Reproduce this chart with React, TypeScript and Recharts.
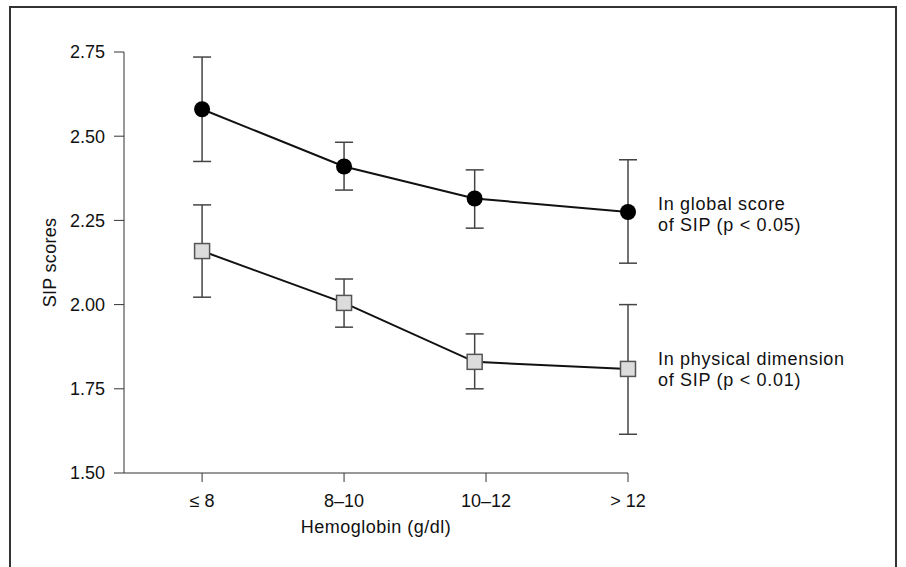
import React from "react";
import {
  ComposedChart,
  Line,
  XAxis,
  YAxis,
  ErrorBar,
} from "recharts";

const categories = ["≤ 8", "8–10", "10–12", "> 12"];
// where each group is drawn along the axis (10–12 sits slightly left of its tick)
const xPositions = [0, 1, 1.92, 3];
const categoryTicks = [0, 1, 2, 3];
const yTicks = [1.5, 1.75, 2.0, 2.25, 2.5, 2.75];

const globalMean = [2.58, 2.41, 2.315, 2.275];
const globalLow = [2.425, 2.34, 2.227, 2.123];
const globalHigh = [2.735, 2.482, 2.4, 2.43];

const physicalMean = [2.159, 2.005, 1.83, 1.809];
const physicalLow = [2.022, 1.933, 1.75, 1.615];
const physicalHigh = [2.296, 2.076, 1.913, 2.0];

const FONT = "'Liberation Sans', Arial, Helvetica, sans-serif";
const INK = "#111";

const data = xPositions.map((x, i) => ({
  x,
  global: globalMean[i],
  globalErr: [globalMean[i] - globalLow[i], globalHigh[i] - globalMean[i]],
  physical: physicalMean[i],
  physicalErr: [physicalMean[i] - physicalLow[i], physicalHigh[i] - physicalMean[i]],
}));

function CircleDot(props: any) {
  const { cx, cy, index } = props;
  if (cx == null || cy == null) return null;
  return <circle key={`c-${index}`} cx={cx} cy={cy} r={8} fill="#000" />;
}

function SquareDot(props: any) {
  const { cx, cy, index } = props;
  if (cx == null || cy == null) return null;
  return (
    <rect
      key={`s-${index}`}
      x={cx - 7.5}
      y={cy - 7.5}
      width={15}
      height={15}
      fill="#dcdcdc"
      stroke="#555"
      strokeWidth={1.5}
    />
  );
}

const legendStyle: React.CSSProperties = {
  position: "absolute",
  fontFamily: FONT,
  fontSize: 18,
  lineHeight: "21px",
  letterSpacing: 0.7,
  color: INK,
  whiteSpace: "nowrap",
};

const tickStyle = { fontSize: 18, fill: INK, fontFamily: FONT };

export default function App() {
  return (
    <div style={{ position: "absolute", left: 0, top: 0, width: 906, height: 567, background: "#fff", overflow: "hidden" }}>
      {/* outer frame */}
      <div
        style={{
          position: "absolute",
          left: 9,
          top: 6,
          width: 884,
          height: 580,
          border: "2px solid #333",
        }}
      />
      <div style={{ position: "absolute", left: 0, top: 0 }}>
        <ComposedChart
          width={906}
          height={567}
          data={data}
          margin={{ top: 52, right: 278, bottom: 0, left: 0 }}
        >
          <XAxis
            dataKey="x"
            type="number"
            domain={[-0.55, 3]}
            ticks={categoryTicks}
            tickFormatter={(v: number) => categories[v] ?? ""}
            height={94}
            stroke="#333"
            tickSize={9}
            tickMargin={12}
            tick={tickStyle}
            label={{
              value: "Hemoglobin (g/dl)",
              position: "insideBottom",
              offset: 34,
              style: { ...tickStyle, letterSpacing: 0.5 },
            }}
          />
          <YAxis
            type="number"
            domain={[1.5, 2.75]}
            ticks={yTicks}
            tickFormatter={(v: number) => v.toFixed(2)}
            width={124}
            stroke="#333"
            tickSize={10}
            tickMargin={9}
            tick={tickStyle}
            label={{
              value: "SIP scores",
              angle: -90,
              position: "insideLeft",
              offset: 50,
              style: { ...tickStyle, letterSpacing: 0.3, textAnchor: "middle" },
            }}
          />
          <Line
            dataKey="global"
            stroke="#111"
            strokeWidth={2}
            dot={CircleDot}
            activeDot={false}
            isAnimationActive={false}
          >
            <ErrorBar
              dataKey="globalErr"
              direction="y"
              width={9}
              stroke="#444"
              strokeWidth={1.5}
              isAnimationActive={false}
            />
          </Line>
          <Line
            dataKey="physical"
            stroke="#111"
            strokeWidth={2}
            dot={SquareDot}
            activeDot={false}
            isAnimationActive={false}
          >
            <ErrorBar
              dataKey="physicalErr"
              direction="y"
              width={9}
              stroke="#444"
              strokeWidth={1.5}
              isAnimationActive={false}
            />
          </Line>
        </ComposedChart>
      </div>
      <div style={{ ...legendStyle, left: 658, top: 194 }}>
        In global score
        <br />
        of SIP (p &lt; 0.05)
      </div>
      <div style={{ ...legendStyle, left: 658, top: 349 }}>
        In physical dimension
        <br />
        of SIP (p &lt; 0.01)
      </div>
    </div>
  );
}
